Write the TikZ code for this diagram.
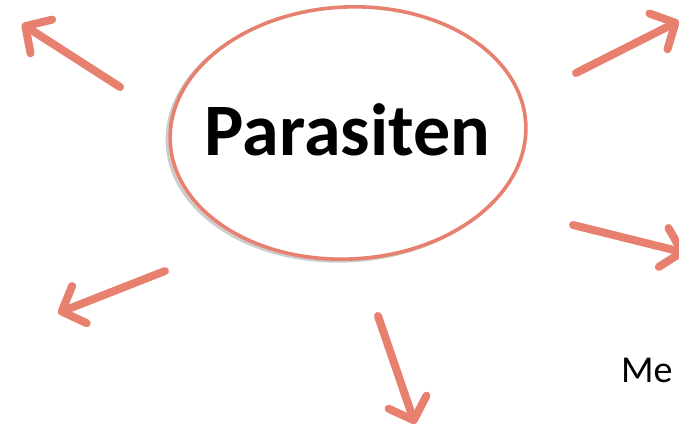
\documentclass[tikz,border=0pt]{standalone}
\usepackage{fontspec}
\setmainfont{Carlito}
\usetikzlibrary{arrows.meta,shapes.geometric}
\definecolor{salmon}{HTML}{E8806F}
\tikzset{
  arr/.style={draw=salmon, line width=8pt, line cap=round,
    -{Straight Barb[length=19pt,width=40pt,round]}},
  bubble/.style={ellipse, draw=salmon, line width=3.6pt, fill=white,
    minimum width=356pt, minimum height=252pt, inner sep=0pt},
}
\begin{document}
\begin{tikzpicture}[x=1pt,y=-1pt]
\useasboundingbox (0,0) rectangle (679,433);
% shadow
\node[ellipse, draw=gray!40, line width=3pt, minimum width=356pt,
  minimum height=252pt, rotate=3] (shadow) at (345,135) {};
\node[bubble, rotate=3] (p) at (348,133) {};
\node[anchor=base, font=\bfseries\fontsize{74}{80}\selectfont] (t) at (347.5,155) {Parasiten};
\node[anchor=base west, inner sep=0pt, font=\fontsize{38}{44}\selectfont] (me) at (621,382) {Me};
% arrow ends
\coordinate (a1s) at (120,87);  \coordinate (a1e) at (22,24);
\coordinate (a2s) at (576,73);  \coordinate (a2e) at (679,21);
\coordinate (a3s) at (573,225); \coordinate (a3e) at (686,253);
\coordinate (a4s) at (165,271); \coordinate (a4e) at (58,313);
\coordinate (a5s) at (378,316); \coordinate (a5e) at (415,424);
\draw[arr] (a1s) -- (a1e);
\draw[arr] (a2s) -- (a2e);
\draw[arr] (a3s) -- (a3e);
\draw[arr] (a4s) -- (a4e);
\draw[arr] (a5s) -- (a5e);
\end{tikzpicture}
\end{document}
